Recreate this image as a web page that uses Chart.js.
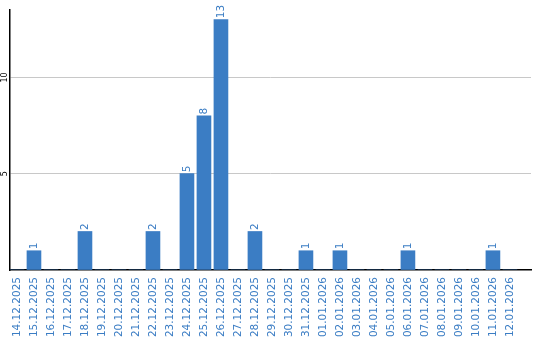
<!DOCTYPE html>
<html><head><meta charset="utf-8">
<script src="https://cdn.jsdelivr.net/npm/chart.js@4/dist/chart.umd.min.js"></script>
<style>html,body{margin:0;padding:0;background:#fff}#wrap{width:540px;height:340px}</style>
</head><body><div id="wrap"><canvas id="c" width="540" height="340"></canvas></div>
<script>
const categories = ["14.12.2025","15.12.2025","16.12.2025","17.12.2025","18.12.2025","19.12.2025","20.12.2025","21.12.2025","22.12.2025","23.12.2025","24.12.2025","25.12.2025","26.12.2025","27.12.2025","28.12.2025","29.12.2025","30.12.2025","31.12.2025","01.01.2026","02.01.2026","03.01.2026","04.01.2026","05.01.2026","06.01.2026","07.01.2026","08.01.2026","09.01.2026","10.01.2026","11.01.2026","12.01.2026"];
const counts = [0,1,0,0,2,0,0,0,2,0,5,8,13,0,2,0,0,1,0,1,0,0,0,1,0,0,0,0,1,0];
const yTicks = [5,10];

const BLUE = '#3b7dc4';
const FONT = '"DejaVu Sans", Verdana, sans-serif';

const points = categories.map((c, i) => ({ x: i, y: counts[i] }));

const labelPlugin = {
  id: 'labels',
  afterDatasetsDraw(chart) {
    const ctx = chart.ctx;
    const meta = chart.getDatasetMeta(0);
    ctx.save();
    ctx.fillStyle = BLUE;
    ctx.font = '10.5px ' + FONT;
    ctx.textAlign = 'left';
    ctx.textBaseline = 'middle';
    meta.data.forEach((bar, i) => {
      const v = counts[i];
      if (!v) return;
      ctx.save();
      ctx.translate(bar.x, bar.y - 1.5);
      ctx.rotate(-Math.PI / 2);
      ctx.fillText(String(v), 0, 0);
      ctx.restore();
    });
    const ys = chart.scales.y;
    ctx.fillStyle = '#000';
    ctx.font = '8px ' + FONT;
    ctx.textAlign = 'center';
    yTicks.forEach(t => {
      ctx.save();
      ctx.translate(5, ys.getPixelForValue(t));
      ctx.rotate(-Math.PI / 2);
      ctx.fillText(String(t), 0, 0);
      ctx.restore();
    });
    ctx.restore();
  }
};

new Chart(document.getElementById('c'), {
  type: 'bar',
  data: { datasets: [{ data: points, backgroundColor: BLUE, borderWidth: 0, barThickness: 14 }] },
  options: {
    responsive: false, animation: false,
    layout: { padding: { top: 10, right: 9, left: 0, bottom: 0 } },
    plugins: { legend: { display: false }, tooltip: { enabled: false } },
    scales: {
      x: {
        type: 'linear', min: -0.41, max: 30.24, offset: false,
        grid: { display: false, drawTicks: false },
        border: { color: '#000', width: 1.5 },
        afterBuildTicks(s) { s.ticks = categories.map((c, i) => ({ value: i })); },
        ticks: { color: BLUE, font: { size: 10.5, family: FONT }, minRotation: 90, maxRotation: 90, autoSkip: false, padding: 7,
                 callback: (v) => categories[v] },
        afterFit(s) { s.height = 70; }
      },
      y: {
        min: 0, max: 13.5,
        grid: { color: (c) => (c.tick && c.tick.value > 0 && c.tick.value % 5 === 0) ? '#c8c8c8' : 'rgba(0,0,0,0)', drawTicks: false },
        border: { color: '#000', width: 1.5 },
        ticks: { display: false, stepSize: 5 },
        afterFit(s) { s.width = 10; }
      }
    }
  },
  plugins: [labelPlugin]
});
</script></body></html>
